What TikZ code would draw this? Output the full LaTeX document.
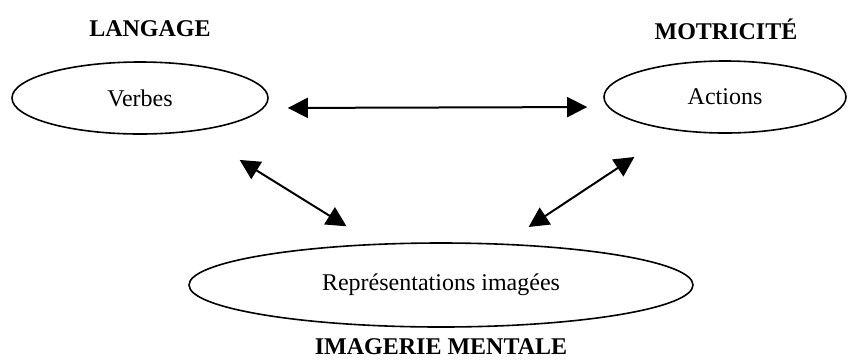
\documentclass[tikz,border=0pt]{standalone}
\usepackage{fontspec}
\setmainfont{Liberation Serif}
\usetikzlibrary{shapes,arrows.meta}

\begin{document}
\begin{tikzpicture}[x=0.5pt,y=-0.5pt,font=\fontsize{12pt}{14pt}\selectfont,
  oval/.style={shape=ellipse,draw=black,align=center,line width=0.8pt,inner sep=0pt},
  head/.style={align=center,font=\fontsize{12pt}{14pt}\selectfont\bfseries},
  link/.style={{Triangle[length=10pt,width=10pt]}-{Triangle[length=10pt,width=10pt]},draw=black,line width=1pt}]
\useasboundingbox (0,0) rectangle (848,361);
\node[oval,minimum width=128pt,minimum height=36pt] (0) at (140,98) {Verbes};
\node[oval,minimum width=121pt,minimum height=36pt] (1) at (725,97) {Actions};
\node[oval,minimum width=252pt,minimum height=42pt] (2) at (441,285) {Représentations imagées};
\node[head] (3) at (150,29) {LANGAGE};
\node[head] (4) at (726,29) {MOTRICITÉ};
\node[head] (5) at (441,347) {IMAGERIE MENTALE};

\draw [link,shorten <=9.5pt,shorten >=8pt] ([yshift=-5pt]0.east) -- ([yshift=-5pt]1.west);
\draw [link,shorten <=27pt,shorten >=16.5pt] (0) -- (2);
\draw [link,shorten <=24pt,shorten >=15pt] (1) -- (2);
\end{tikzpicture}
\end{document}
